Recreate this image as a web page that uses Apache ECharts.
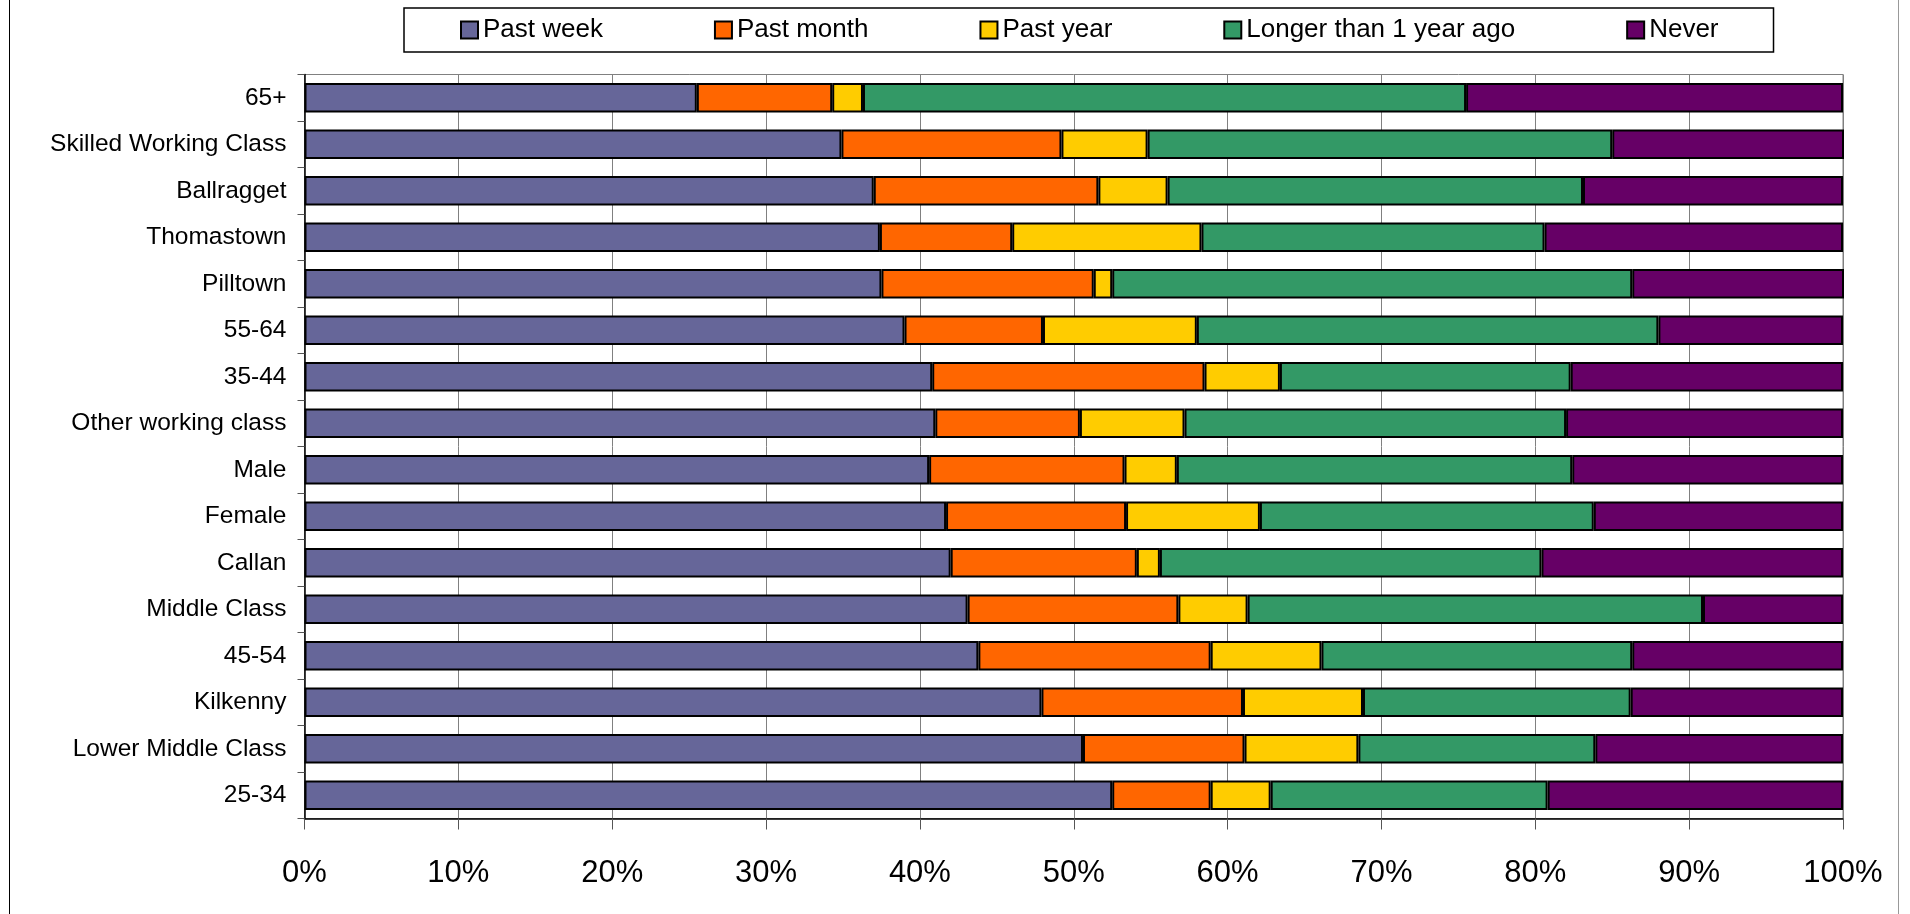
<!DOCTYPE html>
<html>
<head>
<meta charset="utf-8">
<script src="https://cdn.jsdelivr.net/npm/echarts@6/dist/echarts.min.js"></script>
<style>
html,body{margin:0;padding:0;background:#fff;}
#chart{width:1910px;height:914px;}
</style>
</head>
<body>
<div id="chart"></div>
<script>
const categories = ["65+","Skilled Working Class","Ballragget","Thomastown","Pilltown","55-64","35-44","Other working class","Male","Female","Callan","Middle Class","45-54","Kilkenny","Lower Middle Class","25-34"];
const seriesNames = ["Past week","Past month","Past year","Longer than 1 year ago","Never"];
const pastWeek  = [25.5,34.9,37.0,37.4,37.5,39.0,40.8,41.0,40.6,41.7,42.0,43.1,43.8,47.9,50.6,52.5];
const pastMonth = [8.8,14.3,14.6,8.6,13.8,9.0,17.7,9.4,12.7,11.7,12.1,13.7,15.1,13.1,10.5,6.4];
const pastYear  = [2.0,5.6,4.5,12.3,1.2,10.0,4.9,6.8,3.4,8.7,1.5,4.5,7.2,7.8,7.4,3.9];
const longer    = [39.2,30.2,27.0,22.3,33.8,30.0,18.9,24.8,25.7,21.7,24.8,29.6,20.2,17.4,15.4,18.0];
const never     = [24.5,15.1,16.9,19.4,13.8,12.0,17.7,18.0,17.6,16.2,19.6,9.1,13.7,13.8,16.1,19.2];
const colors = ["#666699","#FF6600","#FFCC00","#339966","#660066"];
const values = [pastWeek,pastMonth,pastYear,longer,never];

const chart = echarts.init(document.getElementById('chart'));
const font = "'Liberation Sans', Arial, sans-serif";
chart.setOption({
  animation:false,
  textStyle:{fontFamily:font},
  graphic:[
    {type:'line',shape:{x1:9.5,y1:0,x2:9.5,y2:914},style:{stroke:'#000',lineWidth:1}},
    {type:'line',shape:{x1:1898.5,y1:0,x2:1898.5,y2:914},style:{stroke:'#999',lineWidth:1}}
  ],
  legend:{
    data:seriesNames,
    left:404, top:8,
    padding:[9,55,9,56],
    itemGap:111,
    itemWidth:17, itemHeight:17,
    icon:'rect',
    borderColor:'#000', borderWidth:1.5,
    textStyle:{fontSize:26,color:'#000',fontFamily:font},
    itemStyle:{borderColor:'#000',borderWidth:2}
  },
  grid:{left:304.5,right:67,top:74.5,bottom:95.5,show:true,borderColor:'#808080',borderWidth:1},
  xAxis:{
    type:'value',min:0,max:100,interval:10,
    axisLine:{show:true,lineStyle:{color:'#000',width:1.5}},
    axisTick:{show:true,length:11,lineStyle:{color:'#555'}},
    axisLabel:{formatter:'{value}%',fontSize:31,color:'#000',margin:39,fontFamily:font},
    splitLine:{show:true,lineStyle:{color:'#808080',width:1}}
  },
  yAxis:{
    type:'category',data:categories,inverse:true,
    axisLine:{show:true,lineStyle:{color:'#000',width:1.5}},
    axisTick:{show:true,length:7,lineStyle:{color:'#555'}},
    axisLabel:{fontSize:24.5,color:'#000',margin:18,fontFamily:font},
    splitLine:{show:false}
  },
  series:seriesNames.map((n,i)=>({
    name:n,type:'bar',stack:'total',data:values[i],
    barCategoryGap:'37%',
    itemStyle:{color:colors[i],borderColor:'#000',borderWidth:2}
  }))
});
</script>
</body>
</html>
